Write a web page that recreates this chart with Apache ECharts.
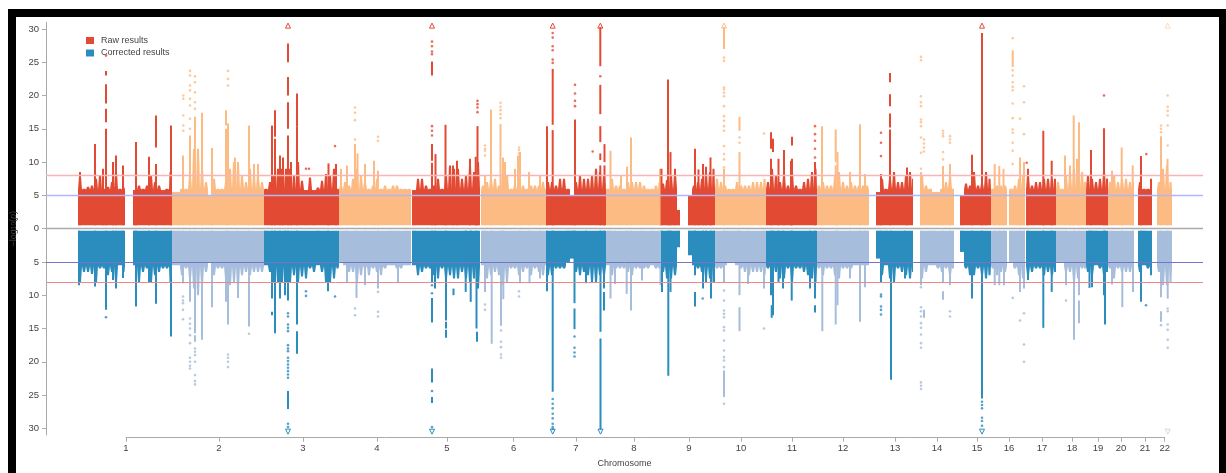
<!DOCTYPE html>
<html><head><meta charset="utf-8">
<style>
html,body{margin:0;padding:0;background:#fff;overflow:hidden}
#frame{position:absolute;left:8px;top:9px;width:1218px;height:464px;box-sizing:border-box;border:solid #000;border-width:8px 7px 0 8px;background:#fff}
#chart{position:absolute;left:0;top:0;width:1226px;height:473px;filter:blur(0.4px)}
</style>
<script src="https://cdn.jsdelivr.net/npm/echarts@6/dist/echarts.min.js"></script>
</head><body>
<div id="frame"></div>
<div id="chart"></div>
<script>
const tickLabels=['1','2','3','4','5','6','7','8','9','10','11','12','13','14','15','16','17','18','19','20','21','22'];
const chromTicks=[126,219,303,377,447,513.7,576,634,689,741,792,843,895,937,977,1009,1042,1072,1098,1121,1145,1164.7];
const pValueTicks=[-30,-25,-20,-15,-10,-5,0,5,10,15,20,25,30];
const rawThresholds=[5,8];
const blockStart=[78,133,172,264,339,412,481,546,606,661,688,715,766,817,876,920,960,991,1009,1026,1056,1086,1108,1138,1157];
const blockEnd=[125,172,264,339,412,481,546,606,661,680,715,766,817,870,913,954,991,1007,1026,1056,1086,1108,1134,1152,1172];
const blockChrom=[1,1,2,3,4,5,6,7,8,9,9,10,11,12,13,14,15,16,16,17,18,19,20,21,22];
const binWidth=4;
const rawBins=[
[7.8,6,6.3,6.5,7.5,8,6,6.3,7,8.5,6,6.2],
[5.8,6.5,6,6.5,8,7,6.5,5.8,6,8.5],
[5.5,5.5,6,6,8,12,12,9,7,5,7.5,6,6,7,9,10,10,8,7,9,8,8,7],
[6,7,8,9,9,9,9,8,10,7.2,5.8,7.7,5.8,6.2,7.2,8.2,8,9,6],
[6.5,7,6.5,7.5,9,8,7,6,6.5,7.5,6,6.5,6,6.5,6.5,6,6,6],
[5.8,7.5,7.5,6.5,6,6.5,7.5,6,8,9.5,9,9,7.5,8,9.5,8.5,10],
[6.5,7,7.5,7.5,6.5,9,8,6,6.5,7.5,6.5,6,6.5,6.5,6.5,7,6],
[7,7,6.5,7.5,7.5,6,5,7,8,7.5,7.5,8,9,8.5,8],
[6,7.5,6.5,6.5,6,7,7,7,7,6.5,6,6,6.5,7],
[6.8,7.3,8,8.3,2.8],
[5,6.5,7,7.5,8.5,8.5,9],
[7.5,7,6.5,6,6,7,6.5,6.5,6.5,7,7,7,7.5],
[7,9,8,7,8,6.5,8.5,6.5,6,7,7.5,8.5,9],
[6.5,7,6.5,6.5,8,8.5,7,6.5,7,6.5,6.5,6.5,6.5],
[5.5,7.5,6,7.5,8.5,7,7,8,8.5,7.5],
[8,6.5,6,5.5,5.5,6,7,8,6],
[5,6.8,6.5,8.5,6.5,6.8,8.5,7.5],
[6,6.5,6.5,6.5],
[6,6.5,7.5,8],
[8,6.5,7,7,7.5,7.5,7.5,7.5],
[7,6,8,8.5,9,9,8.5,7],
[8,7.5,7,7.5,8.5,7.5],
[7,8,7,7.5,7.5,7,7],
[7,6,6,7.5],
[7,9,9.5,7]];
const correctedBins=[
[8,6.5,6.5,6.8,8,6,6,7,6.5,8,5.5,6.5],
[5.5,8,6.5,6,8,7,6.5,6,6,8],
[5.5,5.5,7,6,7.5,9,10,8.5,6.5,5,7,6,6,7.5,8.5,8,9,7,6.5,7,6.5,6.5,6.5],
[5.5,6.5,8,8,8,8,8,7,8,7.2,7.5,6,6.5,5.5,6.5,8,8,7.5,6],
[5,5.5,6.5,6.5,8,7,6,7,6,6.5,7,6,5.5,5.5,6,6,5.5,5.5],
[5.5,7,6.5,6,6,7,7.5,6,7.5,7,7.5,7.5,6.5,7.5,8,7.5,9],
[5.5,7.5,7,6.5,7,8.5,8,6,6,7,6.5,6,7,6,6.5,7,5.5],
[7,7,6,6,6,5,4.5,6.5,7,6.5,7,8,8,7,7],
[5.5,7,6,6,6,6.5,7,6,6,6,6,5.5,6,6],
[6.5,7.5,7.5,7,2.8],
[4,5.5,6,6.5,7.5,7.5,8],
[6,6,5.5,5,5,5.5,6,6.5,7,6.5,6.5,6.5,7],
[6,9,6.5,7.5,7.5,6,8,6,6,6.5,7,7.5,8],
[6,7,6,6,7,7.5,6,6,6,5.5,5.5,5.5,5.5],
[4.5,7,5.5,7.5,8,6,6.5,7,7.5,6.5],
[7.5,6.5,5.5,5.5,6,6.5,6,7,6],
[3.5,6,7,7,6,7,7.5,7],
[6,7,6.5,6.5],
[5,6,7,7.5],
[7,6.5,6,6,7,6.5,7,6.5],
[5,5,6.5,6.5,8,7.5,6,6],
[6.5,7,5.5,6,7,6.5],
[6,7.5,6,6.5,6.5,6.5,6.5],
[6.5,5.5,6,7],
[6.5,8.5,8.5,8]];
const rawColumns=[
[80,0,8.5],[95,0,12.7],[103,0,9],[106,0,15],[106,16,18],[106,18.8,21.7],[106,23,23.7],[113,0,10],[116,0,11],[123,0,9.5],
[136,0,13],[149,0,10.8],[156,0,9.7],[156,12.2,17],[171,0,15.5],
[183,0,11],[190,0,14],[195,0,16.8],[202,0,17.4],[212,0,12.1],[226,0,15],[226,15.5,17.8],[228,0,15.8],[235,0,10.7],[249,0,15.5],[254,0,9.7],[258,0,9.7],
[272,0,15.5],[275,0,13.5],[275,13.8,17.8],[280,0,11],[283,0,10.7],[288,0,14],[288,15,19],[288,20,22.8],[288,25,27.8],[291,0,10],[297,0,15.4],[297,15.4,20.3],[328.5,0,9.8],[336,0,9.7],
[341,0,9],[347,0,9.5],[355,0,12.7],[357.5,0,11.3],[365,0,9.7],[374,0,10.2],[378,0,8.7],
[432,0,9.9],[432,10.2,12.7],[432,23,25.1],[435.5,0,11.2],[445.5,0,15.6],[453,0,9.5],[457,0,10.2],[470,0,10.5],[475.7,0,10.8],[477.5,0,15.4],
[485,0,8],[491,0,17.9],[500.5,0,15.7],[503,0,10.7],[505,0,10],[515,0,9],[518,0,11],[520,0,11.5],[529,0,8.5],[540,0,8],
[547,0,15.4],[552.7,0,14.8],[552.7,15.6,24],[575,0,16.4],[600.3,0,9.5],[600.3,10.3,11.3],[600.3,13,15.4],[600.3,17.2,21.6],[600.3,24.4,30.3],[604.5,0,9.5],[604.5,10,12.7],
[610.5,0,11.7],[621,0,8],[627,0,9.3],[631,0,13.7],[660,0,9],
[661.5,0,9],[668,0,22.4],[670.5,0,11.5],[675,0,9],
[695,0,12],[698.5,0,8.9],[703,0,9.7],[706,0,9.3],[710.5,0,10.7],
[724,0,9],[724,27,30.3],[739.5,0,11.5],[739.5,14.7,16.8],
[771,0,10.5],[771,12,14.5],[773,11.5,13.5],[778.5,0,10.5],[784,0,11.8],[791,0,10.2],[792,0,10.5],[792,12.5,13.8],[815,0,10],
[822,0,15.4],[835.7,0,9.5],[835.7,10,14.9],[837.5,0,11.5],[850,0,8.5],[860,0,15.7],[865,0,8.2],
[881,0,8.2],[890,0,14.9],[890,15.2,17.3],[890,18.4,20.2],[890,22,23.4],[907,0,9.2],
[921,0,8.5],[943,0,9.4],[950,0,9.7],
[972,0,11.1],[982,0,29.4],[986,0,8.5],
[994.7,0,9.7],[999.3,0,9.4],[1003.5,0,9],
[1012.7,24.3,26.8],[1020,0,10.7],[1024,0,10],
[1028,0,9],[1043.3,0,14.7],[1051.7,0,10.2],
[1065,0,11],[1070,0,9.5],[1073.7,0,17],[1077,0,10.5],[1079,0,16],
[1091,0,11.8],[1104,0,15.1],[1107,0,7.5],
[1112,0,8.7],[1121.7,0,12.2],[1132.7,0,9.5],
[1141,0,10.9],
[1161,0,13.9],[1167.5,0,10.5]];
const correctedColumns=[
[79,0,8.5],[95,0,8.7],[106,0,12.2],[113,0,7.7],[116,0,9],[123,0,7.4],
[136,0,11.7],[149,0,8],[156,0,11.3],[171,0,16.2],
[183,0,8.2],[190,0,11],[195,0,15.7],[195,16,17],[202,0,16.7],[212,0,11.8],[226,0,11],[228,0,14.4],[238,0,10.4],[249,0,14.7],
[272,0,10.5],[272,12.5,13],[275,0,15.7],[280,0,10.5],[285,0,10],[288,0,10.8],[288,24.4,27.1],[297,0,14.4],[297,15.4,18.8],[328,0,9.4],
[347,0,8],[356.5,0,10.4],[365,0,8.5],[378,0,9],[398,0,8],
[432,0,8],[432,10.4,14.1],[432,21,23.1],[432,25.3,26.2],[435,0,9],[446,0,13.8],[446,14,15],[446,15.2,16.4],[453.5,9,10],[465.7,0,9.5],[470.7,0,11],[476.5,0,15],[477,15.5,17],
[485,0,9.5],[491.7,0,17.3],[501,0,14.6],[503.3,0,10.6],[520,0,8.2],[529.5,0,8.2],[540,0,7.5],
[547,0,9.4],[552.7,0,24.5],[574.5,0,11.2],[574.5,12,15.1],[586,0,8.2],[600.5,0,15.5],[600.5,16.5,30.2],[604,0,9],[604,9.5,12.3],
[610.5,0,10.5],[615,0,8.3],[626.7,0,9.8],[631,0,12.3],[642,0,7.8],[660.5,0,8.5],
[662,0,9.5],[668.3,0,22.1],[670.5,0,9.5],
[695,0,7],[695,9.5,11.7],[703,0,9],[706,0,8],[711,0,10.5],[714,0,8],
[724,0,8],[724,21.3,25.3],[739.5,0,10],[739.5,11.8,15.4],[748,0,8.3],[764,0,9],
[771,0,10],[771.7,11.5,13.4],[773,0,13],[778.5,0,8],[783,0,9],[791.7,0,10.8],[810,0,9],[815,0,10.5],[815,11.5,12.6],
[822.3,0,15.4],[835.7,0,14.4],[837.5,0,11.5],[850,0,7.5],[860,0,14],[865,0,8.8],
[881,0,8],[891,0,22.7],[905,0,7.5],
[921,0,8.5],[924,12.2,13.4],[943,0,8],[943,9.4,10.7],[950,0,8.5],
[972,0,10.5],[982,0,25.5],
[994.7,0,8.5],[999.3,0,8.5],[1004,0,8.5],
[1020,0,9.5],[1024,0,9],
[1028,0,7.7],[1043.3,0,14.9],[1051.7,0,9.5],
[1066,0,8.5],[1074,0,16.7],[1079,0,10],[1079,10.8,14.2],
[1089.5,0,8.9],[1092,0,8.8],[1104,0,10],[1105,0,14.4],
[1112,0,8.4],[1122.3,0,11.8],[1133,0,9.5],
[1141,0,11],
[1161,0,10.3],[1161,12.4,14],[1167.7,0,10.5]];
const rawDots=[
[106,[26]],[183.3,[14.7,15.5,17,19.5,20]],[190,[15,16.5,18.5,19.5,20.8,21.5,23,23.7]],[195,[18,19,20.5,22,22.9]],[228,[21.5,22.5,23.7]],
[306,[9]],[309,[9]],[335,[12.4]],[355,[13.4,16.3,17.4,18.2]],[378,[13.2,13.8]],
[432,[14,14.7,15.4,26.2,26.6,27.4,28.1]],[477.5,[17.5,18.2,18.7,19.2]],[485,[11,11.7,12,12.5]],[500.5,[16.6,17.2,17.8,18.3,18.9]],[519,[10.7,11.3,11.8,12.2]],
[552.7,[24.9,25.4,26.8,27.4,28.7,29.4]],[575,[18.4,19.2,20.3,21.6]],[592.7,[11.6]],[600.3,[22.9]],
[724,[9.2,10.4,11.2,12.4,14.7,15.4,16.2,16.9,18.4,19.9,20.4,20.9,21.2,25.2,25.7]],[739.5,[12.9,13.7]],[764,[14.3]],
[815,[10.7,12,13.2,14.2,15.4]],[881,[10.9,12.9,14.4]],
[921,[9,11.4,13.7,15.4,16,16.4,18.4,19,19.9,25.3,25.8]],[924,[11.6,12.2,12.8,13.4]],[943,[10.4,11.5,13.9,14.3,14.7]],[950,[12.9,13.4,13.9]],
[1012.7,[9.7,11.7,12.9,14.4,14.9,16.6,18.8,20.8,21.3,22,23,23.8,28.6]],[1020,[16.5]],[1024,[14.2,19,21.4]],[1026.7,[9.9]],
[1104,[20]],[1146.3,[11.2]],[1167.7,[12.5,15.5,17,17.7,18.3,20]],[1161,[14.5,15,15.5]]];
const correctedDots=[
[106,[13.3]],[183,[10.2,10.8,11.2,12.2,13.6]],[190,[13.5,14.3,15,16,17.2,19.4,20,20.6,21]],[195,[18,18.5,19,20,22,22.9,23.4]],[228,[18.9,19.4,20,20.8]],[249,[15.8]],
[288,[12.7,13.2,14.4,14.9,15.4,17.5,18,18.4,19.4,19.9,20.4,20.9,21.4,21.9,22.4,29.3,29.8]],[306,[9.4,10.1]],[335,[10.2]],
[355,[12,13]],[378,[9.5,12.5,13.2]],[432,[8.5,9.7,24.4,29.8]],[485,[11.4,12.2]],[501,[15.3,17,17.8,18.9,19.4]],[519,[9.4,10.2]],
[552.7,[25.6,26.3,27,27.8,28.5,29.3,29.8,30.1]],[574.5,[16.2,17.9,18.6,19.2]],
[702.7,[10.5]],[724,[9.3,10.8,12.3,12.8,13.3,14.8,15.3,16.8,18.3,19.3,19.8,20.8,26.3]],[764,[15]],
[881,[9.9,10.2,11.7,12.2,12.9]],[921,[8.8,11.8,12.4,13.2,14.2,14.9,15.9,17.2,17.9,23.1,23.6,24.1]],[950,[12.4,13.2]],
[982,[26,26.5,27,28.4,28.9,29.6]],[1012.7,[10.4]],[1020,[13.8]],[1024,[12.7,17.4,20]],[1066,[10.8]],[1146,[11.5]],[1161,[14.5]],[1167.7,[12,12.4,14.4,15.2,16.7,17.9]]];
const rawCapped=[288,432,552.7,600.3,724,982,1167.7];
const correctedCapped=[288,432,552.7,600.5,982,1167.7];

const colors={raw:['#e34a33','#fdbb84'],corrected:['#2b8cbe','#a6bddb']};
const solidLevel={raw:5.9,corrected:5.6};
function colorAt(x,kind){
  let c=1;
  for(let i=0;i<blockStart.length;i++){ if(x>=blockStart[i]){c=blockChrom[i];} }
  return colors[kind][c%2===1?0:1];
}
function rects(bins,columns,kind,sign,base){
  const out=[];
  bins.forEach((vals,b)=>vals.forEach((v,i)=>{
    const x0=blockStart[b]+i*binWidth, x1=Math.min(x0+binWidth,blockEnd[b]);
    out.push([x0,x1,sign*base,sign*v,colorAt(x0,kind),sign*Math.min(v,solidLevel[kind])]);
  }));
  columns.forEach(c=>out.push([c[0]-1,c[0]+1,sign*Math.max(c[1],base),sign*c[2],colorAt(c[0],kind),sign*c[2]]));
  return out;
}
function renderRect(params,api){
  const x0=api.value(0),x1=api.value(1),lo=api.value(2),hi=api.value(3),mid=api.value(5),xc=(x0+x1)/2;
  const half=Math.min(1,(x1-x0)/2);
  const pts=[[x0,lo],[x0,mid],[xc-half,hi],[xc+half,hi],[x1,mid],[x1,lo]].map(p=>api.coord(p));
  return {type:'polygon',shape:{points:pts},style:{fill:api.value(4)}};
}
function dots(list,kind,sign){
  const out=[];
  list.forEach(d=>d[1].forEach(v=>out.push({value:[d[0],sign*v],itemStyle:{color:colorAt(d[0],kind)}})));
  return out;
}
function capped(list,kind,sign){
  return list.map(x=>({value:[x,sign*30.5],itemStyle:{color:'rgba(255,255,255,0)',borderColor:colorAt(x,kind),borderWidth:1,opacity:x>1160?0.55:1}}));
}
const refLine=(v,c,w)=>({yAxis:v,lineStyle:{color:c,width:w||1,type:'solid'},symbol:'none',label:{show:false}});
const chart=echarts.init(document.getElementById('chart'),null,{renderer:'canvas'});
chart.setOption({
  animation:false,
  backgroundColor:'transparent',
  legend:{data:['Raw results','Corrected results'],left:86,top:36,orient:'vertical',icon:'rect',itemWidth:8,itemHeight:7,itemGap:3.5,padding:0,
    selectedMode:false,textStyle:{fontFamily:'Liberation Sans',fontSize:9,color:'#444',padding:[0,0,0,2]}},
  grid:[{left:46,right:23,top:22.3,height:415.4,containLabel:false},{left:126,right:61.3,top:22.3,height:415.4}],
  xAxis:[
    {type:'value',gridIndex:0,min:46,max:1203,name:'Chromosome',nameLocation:'middle',nameGap:24,
      nameTextStyle:{fontFamily:'Liberation Sans',fontSize:9,color:'#444'},
      axisLine:{show:false},axisTick:{show:false},axisLabel:{show:false},splitLine:{show:false}},
    {type:'value',gridIndex:1,min:126,max:1164.7,position:'bottom',
      axisLine:{show:true,onZero:false,lineStyle:{color:'#aaa',width:1}},
      axisTick:{show:true,length:4,customValues:chromTicks,lineStyle:{color:'#aaa'}},
      axisLabel:{show:true,customValues:chromTicks,margin:6,fontFamily:'Liberation Sans',fontSize:9.5,color:'#444',hideOverlap:false,
        formatter:v=>tickLabels[chromTicks.indexOf(v)]},
      splitLine:{show:false}}
  ],
  yAxis:[
    {type:'value',gridIndex:0,min:-31,max:31,position:'left',
      name:'{a|−log}{b|10}{a|(}{c|p}{a|)}',nameLocation:'middle',nameRotate:90,nameGap:21.5,
      nameTextStyle:{rich:{a:{fontFamily:'Liberation Sans',fontSize:9,color:'#444'},b:{fontFamily:'Liberation Sans',fontSize:6.5,color:'#444',verticalAlign:'bottom'},c:{fontFamily:'Liberation Sans',fontStyle:'italic',fontSize:9,color:'#444'}}},
      axisLine:{show:true,onZero:false,lineStyle:{color:'#aaa',width:1}},
      axisTick:{show:true,length:4,customValues:pValueTicks,lineStyle:{color:'#aaa'}},
      axisLabel:{show:true,customValues:pValueTicks,margin:7,fontFamily:'Liberation Sans',fontSize:9.5,color:'#444',formatter:v=>String(Math.abs(v))},
      splitLine:{show:false}},
    {type:'value',gridIndex:1,min:-31,max:31,show:false}
  ],
  series:[
    {type:'line',xAxisIndex:0,yAxisIndex:0,data:[],z:1,silent:true,
      markLine:{silent:true,symbol:'none',animation:false,data:[
        refLine(rawThresholds[1],'#f9b4b4',1.3),refLine(rawThresholds[0],'#b4b4f9',1.3),refLine(0,'#aaaaaa',1.3),
        refLine(-rawThresholds[0],'#7474c8',1),refLine(-rawThresholds[1],'#e88a8a',1)]}},
    {name:'Raw results',type:'custom',xAxisIndex:0,yAxisIndex:0,z:3,renderItem:renderRect,itemStyle:{color:colors.raw[0]},
      encode:{x:[0,1],y:[2,3]},data:rects(rawBins,rawColumns,'raw',1,0.5)},
    {name:'Corrected results',type:'custom',xAxisIndex:0,yAxisIndex:0,z:3,renderItem:renderRect,itemStyle:{color:colors.corrected[0]},
      encode:{x:[0,1],y:[2,3]},data:rects(correctedBins,correctedColumns,'corrected',-1,0.3)},
    {name:'Raw outliers',type:'scatter',xAxisIndex:0,yAxisIndex:0,z:4,symbolSize:2.6,data:dots(rawDots,'raw',1)},
    {name:'Corrected outliers',type:'scatter',xAxisIndex:0,yAxisIndex:0,z:4,symbolSize:2.6,data:dots(correctedDots,'corrected',-1)},
    {name:'Raw capped',type:'scatter',xAxisIndex:0,yAxisIndex:0,z:4,symbol:'triangle',symbolSize:5,data:capped(rawCapped,'raw',1)},
    {name:'Corrected capped',type:'scatter',xAxisIndex:0,yAxisIndex:0,z:4,symbol:'triangle',symbolRotate:180,symbolSize:5,data:capped(correctedCapped,'corrected',-1)}
  ]
});
</script>
</body></html>
